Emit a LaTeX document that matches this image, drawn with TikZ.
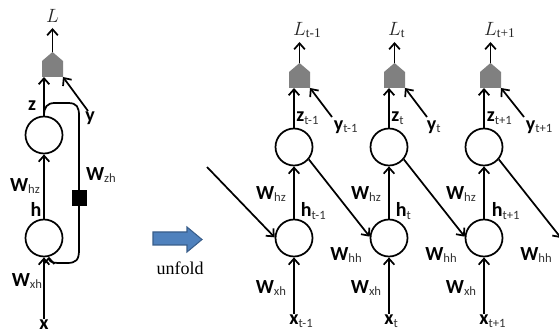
\documentclass[tikz,border=0pt]{standalone}
\usepackage{fontspec}
\usetikzlibrary{arrows.meta}
\newfontfamily\lblfont{Carlito}
\newfontfamily\serfont{Liberation Serif}
\definecolor{lossgray}{RGB}{128,128,128}
\definecolor{unfoldfill}{RGB}{79,129,189}
\definecolor{unfoldedge}{RGB}{56,93,138}
% bold letter with a plain subscript
\newcommand{\bsym}[2]{{\lblfont\fontsize{15}{15}\selectfont\textbf{#1}\raisebox{-2pt}{\fontsize{9.5}{9.5}\selectfont\color{black!80}#2}}}
% same, but the subscript takes no width
\newcommand{\csym}[2]{{\lblfont\fontsize{15}{15}\selectfont\textbf{#1}\rlap{\raisebox{-2pt}{\fontsize{9.5}{9.5}\selectfont\color{black!80}#2}}}}
\newcommand{\lsym}[1]{{\color{black!85}\fontsize{14}{14}\selectfont$L$\rlap{\raisebox{-2pt}{\serfont\fontsize{10}{10}\selectfont #1}}}}

\tikzset{every picture/.style={line width=1.3pt},
	unit/.style={draw, circle, minimum size=27.75pt, inner sep=0pt},
	lbl/.style={inner sep=0pt},
	conn/.style={-{Straight Barb[length=4.5pt,width=8pt]}}}

\begin{document}
\begin{tikzpicture}[x=0.75pt,y=0.75pt,yscale=-1,xscale=1]
			\clip (0,0) rectangle (559,334);
			
			%Folded network
			\node [unit] (z) at (44,135) {};
			\node [unit] (h) at (44,238) {};
			%Loss
			\fill [lossgray] (42,77) -- (63,77) -- (63,61) -- (52.5,52) -- (42,61) -- cycle ;
			\coordinate (zin) at (44,77);
			\coordinate (yin) at (63,77);
			\coordinate (Lout) at (52.5,52);
			\coordinate (Ltip) at (52.5,28);
			\coordinate (ys) at (88,111);
			
			\node [lbl] (Ltxt) at (52.5,17) {\lsym{}};
			\node [lbl] (ztxt) at (32,107) {\bsym{z}{}};
			\node [lbl] (ytxt) at (90,118) {\bsym{y}{}};
			\node [lbl] (htxt) at (36,211) {\bsym{h}{}};
			\node [lbl] (xtxt) at (44,326) {\bsym{x}{}};
			\node [lbl] (whz) at (25,186) {\bsym{W}{hz}};
			\node [lbl] (wzh) at (101,175) {\bsym{W}{zh}};
			\node [lbl] (wxh) at (27,281) {\bsym{W}{xh}};
			
			%Straight Lines
			\draw [conn] (xtxt) -- (h) ;
			\draw [conn] (h) -- (z) ;
			\draw [conn] (z) -- (zin) ;
			\draw [conn] (ys) -- (yin) ;
			\draw [conn] (Lout) -- (Ltip) ;
			%Loop
			\draw [conn] (z.north) .. controls (44,107) and (47,103) .. (55,103) -- (68,103) .. controls (77,103) and (79,107) .. (79,116) -- (79,250) .. controls (79,260) and (76,263) .. (67,263) -- (58,263) .. controls (52,263) and (49,261) .. (h.-75) ;
			\node [fill=black, minimum width=11.25pt, minimum height=12pt, inner sep=0pt] (delay) at (79,198) {};
			
			%Unfold arrow
			\draw [draw=unfoldedge, fill=unfoldfill, line width=0.8pt] (153,232) -- (187,232) -- (187,227) -- (202,239.5) -- (187,252) -- (187,245) -- (153,245) -- cycle ;
			\node [lbl] (unf) at (180,268) {\serfont\fontsize{13.5}{13.5}\selectfont unfold};
			
			%Step t-1
			\node [unit] (z1) at (294,147) {};
			\node [unit] (h1) at (294,238) {};
			\fill [lossgray] (289,88) -- (310,88) -- (310,72) -- (299.5,63) -- (289,72) -- cycle ;
			\coordinate (zin1) at (294,88);
			\coordinate (yin1) at (310,88);
			\coordinate (Lout1) at (299.5,63);
			\coordinate (Ltip1) at (299.5,42);
			\coordinate (ys1) at (332,117);
			\coordinate (hin) at (207,167);
			
			\node [lbl] (Ltxt1) at (299.5,30) {\lsym{t-1}};
			\node [lbl, anchor=west] (ztxt1) at (295.5,118) {\bsym{z}{t-1}};
			\node [lbl, anchor=west] (ytxt1) at (333,127) {\bsym{y}{t-1}};
			\node [lbl, anchor=west] (htxt1) at (300,211) {\bsym{h}{t-1}};
			\node [lbl] (xtxt1) at (294,321) {\csym{x}{t-1}};
			\node [lbl] (whz1) at (271,194) {\bsym{W}{hz}};
			\node [lbl] (wxh1) at (271,288) {\bsym{W}{xh}};
			\node [lbl] (whh1) at (346,255) {\bsym{W}{hh}};
			
			%Step t
			\node [unit] (z2) at (389,147) {};
			\node [unit] (h2) at (389,238) {};
			\fill [lossgray] (384,88) -- (405,88) -- (405,72) -- (394.5,63) -- (384,72) -- cycle ;
			\coordinate (zin2) at (389,88);
			\coordinate (yin2) at (405,88);
			\coordinate (Lout2) at (394.5,63);
			\coordinate (Ltip2) at (394.5,42);
			\coordinate (ys2) at (427,117);
			
			\node [lbl] (Ltxt2) at (394.5,30) {\lsym{t}};
			\node [lbl, anchor=west] (ztxt2) at (390.5,118) {\bsym{z}{t}};
			\node [lbl, anchor=west] (ytxt2) at (426,127) {\bsym{y}{t}};
			\node [lbl, anchor=west] (htxt2) at (395,211) {\bsym{h}{t}};
			\node [lbl] (xtxt2) at (389,321) {\csym{x}{t}};
			\node [lbl] (whz2) at (366,194) {\bsym{W}{hz}};
			\node [lbl] (wxh2) at (366,288) {\bsym{W}{xh}};
			\node [lbl] (whh2) at (441,255) {\bsym{W}{hh}};
			
			%Step t+1
			\node [unit] (z3) at (484,147) {};
			\node [unit] (h3) at (484,238) {};
			\fill [lossgray] (480,88) -- (501,88) -- (501,72) -- (490.5,63) -- (480,72) -- cycle ;
			\coordinate (zin3) at (484,88);
			\coordinate (yin3) at (501,88);
			\coordinate (Lout3) at (490.5,63);
			\coordinate (Ltip3) at (490.5,42);
			\coordinate (ys3) at (524,117);
			\coordinate (hout) at (561,238);
			
			\node [lbl] (Ltxt3) at (490.5,30) {\lsym{t+1}};
			\node [lbl, anchor=west] (ztxt3) at (486,118) {\bsym{z}{t+1}};
			\node [lbl, anchor=west] (ytxt3) at (525,127) {\bsym{y}{t+1}};
			\node [lbl, anchor=west] (htxt3) at (491,211) {\bsym{h}{t+1}};
			\node [lbl] (xtxt3) at (484,321) {\csym{x}{t+1}};
			\node [lbl] (whz3) at (461,194) {\bsym{W}{hz}};
			\node [lbl] (wxh3) at (461,288) {\bsym{W}{xh}};
			\node [lbl] (whh3) at (536,255) {\bsym{W}{hh}};
			
			%Straight Lines
			\draw [conn] (xtxt1) -- (h1) ;
			\draw [conn] (h1) -- (z1) ;
			\draw [conn] (z1) -- (zin1) ;
			\draw [conn] (ys1) -- (yin1) ;
			\draw [conn] (Lout1) -- (Ltip1) ;
			\draw [conn] (xtxt2) -- (h2) ;
			\draw [conn] (h2) -- (z2) ;
			\draw [conn] (z2) -- (zin2) ;
			\draw [conn] (ys2) -- (yin2) ;
			\draw [conn] (Lout2) -- (Ltip2) ;
			\draw [conn] (xtxt3) -- (h3) ;
			\draw [conn] (h3) -- (z3) ;
			\draw [conn] (z3) -- (zin3) ;
			\draw [conn] (ys3) -- (yin3) ;
			\draw [conn] (Lout3) -- (Ltip3) ;
			%Recurrent links
			\draw [conn] (hin) -- (h1.178) ;
			\draw [conn] (z1.-40) -- (h2.176) ;
			\draw [conn] (z2.-40) -- (h3.176) ;
			\draw [conn] (z3.-40) -- (hout) ;
			
\end{tikzpicture}
\end{document}
